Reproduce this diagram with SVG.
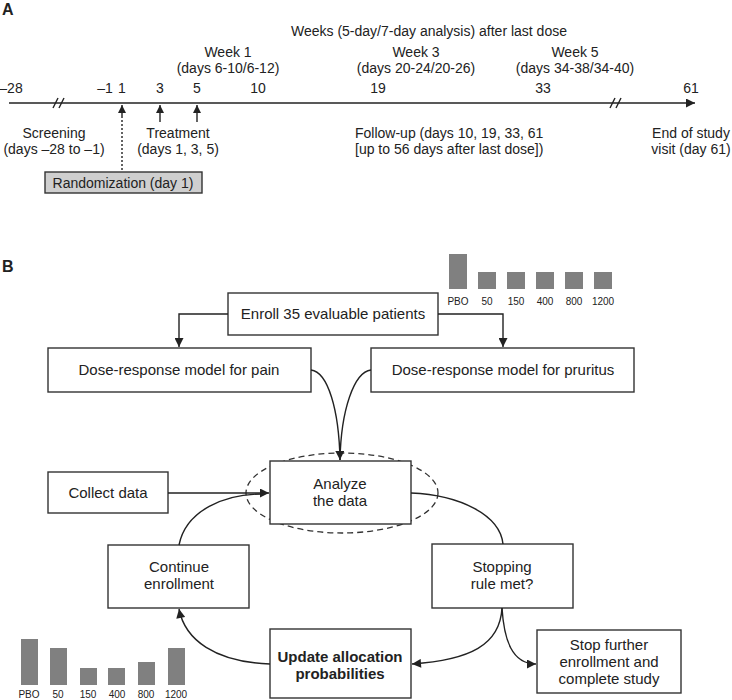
<svg xmlns="http://www.w3.org/2000/svg" width="732" height="700" viewBox="0 0 732 700">
<style>
text{font-family:"Liberation Sans",Arial,sans-serif;fill:#222}
.t{font-size:14px}
.b{font-size:15px}
.m{text-anchor:middle}
.bold{font-weight:bold}
.lab{font-size:16px;font-weight:bold}
.sm{font-size:10px;text-anchor:middle}
.box{fill:#fff;stroke:#333;stroke-width:1.4}
.ln{fill:none;stroke:#222;stroke-width:1.4}
.bar{fill:#808080}
</style>
<defs>
<marker id="ah" viewBox="0 0 10 10" refX="10" refY="5" markerWidth="8" markerHeight="8" markerUnits="userSpaceOnUse" orient="auto"><path d="M0,0 L10,5 L0,10 z" fill="#222"/></marker>
<marker id="ahL" viewBox="0 0 10 10" refX="10" refY="5" markerWidth="11" markerHeight="9" markerUnits="userSpaceOnUse" orient="auto"><path d="M0,0 L10,5 L0,10 z" fill="#222"/></marker>
</defs>

<!-- Panel A -->
<text x="2" y="15" class="lab">A</text>
<g id="timeline">
<line x1="9" y1="103" x2="695" y2="103" class="ln" marker-end="url(#ahL)"/>
<line x1="53" y1="108" x2="58" y2="98" class="ln"/>
<line x1="59" y1="108" x2="64" y2="98" class="ln"/>
<line x1="610" y1="108" x2="615" y2="98" class="ln"/>
<line x1="616" y1="108" x2="621" y2="98" class="ln"/>
<text x="11" y="93" class="t m">–28</text>
<text x="105" y="93" class="t m">–1</text>
<text x="122" y="93" class="t m">1</text>
<text x="160" y="93" class="t m">3</text>
<text x="197" y="93" class="t m">5</text>
<text x="258" y="93" class="t m">10</text>
<text x="378" y="93" class="t m">19</text>
<text x="543" y="93" class="t m">33</text>
<text x="691" y="93" class="t m">61</text>
<text x="429" y="36" class="t m">Weeks (5-day/7-day analysis) after last dose</text>
<text x="228" y="57" class="t m">Week 1</text>
<text x="228" y="73" class="t m">(days 6-10/6-12)</text>
<text x="416" y="57" class="t m">Week 3</text>
<text x="416" y="73" class="t m">(days 20-24/20-26)</text>
<text x="575" y="57" class="t m">Week 5</text>
<text x="575" y="73" class="t m">(days 34-38/34-40)</text>
</g>
<g id="arrows-a">
<line x1="122" y1="116" x2="122" y2="105" class="ln" marker-end="url(#ah)"/>
<line x1="122" y1="116" x2="122" y2="172" class="ln" stroke-dasharray="2,2"/>
<line x1="160" y1="122" x2="160" y2="105" class="ln" marker-end="url(#ah)"/>
<line x1="197" y1="122" x2="197" y2="105" class="ln" marker-end="url(#ah)"/>
</g>
<g id="screening">
<text x="54" y="138" class="t m">Screening</text>
<text x="54" y="154" class="t m">(days –28 to –1)</text>
</g>
<g id="treatment">
<text x="178" y="138" class="t m">Treatment</text>
<text x="178" y="154" class="t m">(days 1, 3, 5)</text>
</g>
<g id="followup">
<text x="355" y="138" class="t">Follow-up (days 10, 19, 33, 61</text>
<text x="355" y="154" class="t">[up to 56 days after last dose])</text>
</g>
<g id="endofstudy">
<text x="691" y="138" class="t m">End of study</text>
<text x="691" y="154" class="t m">visit (day 61)</text>
</g>
<g id="randomization">
<rect x="45" y="172" width="157" height="21" fill="#cfcfcf" stroke="#333" stroke-width="1.4"/>
<text x="123" y="188" class="t m">Randomization (day 1)</text>
</g>

<!-- Panel B -->
<text x="2" y="272" class="lab">B</text>

<g id="bars-top">
<rect x="449" y="254" width="18" height="35" class="bar"/>
<rect x="478" y="272" width="18" height="17" class="bar"/>
<rect x="507" y="272" width="18" height="17" class="bar"/>
<rect x="536" y="272" width="18" height="17" class="bar"/>
<rect x="565" y="272" width="18" height="17" class="bar"/>
<rect x="594" y="272" width="18" height="17" class="bar"/>
<text x="458" y="305" class="sm">PBO</text>
<text x="487" y="305" class="sm">50</text>
<text x="516" y="305" class="sm">150</text>
<text x="545" y="305" class="sm">400</text>
<text x="574" y="305" class="sm">800</text>
<text x="603" y="305" class="sm">1200</text>
</g>

<g id="bars-bottom">
<rect x="21" y="639" width="17" height="46" class="bar"/>
<rect x="50" y="648" width="17" height="37" class="bar"/>
<rect x="80" y="668" width="17" height="17" class="bar"/>
<rect x="108" y="668" width="17" height="17" class="bar"/>
<rect x="138" y="662" width="17" height="23" class="bar"/>
<rect x="168" y="648" width="17" height="37" class="bar"/>
<text x="29" y="698" class="sm">PBO</text>
<text x="58" y="698" class="sm">50</text>
<text x="88" y="698" class="sm">150</text>
<text x="117" y="698" class="sm">400</text>
<text x="146" y="698" class="sm">800</text>
<text x="176" y="698" class="sm">1200</text>
</g>

<g id="enroll">
<rect x="228" y="293" width="210" height="42" class="box"/>
<text x="333" y="319" class="b m">Enroll 35 evaluable patients</text>
</g>
<g id="pain">
<rect x="48" y="348" width="263" height="44" class="box"/>
<text x="179" y="375" class="b m">Dose-response model for pain</text>
</g>
<g id="pruritus">
<rect x="371" y="348" width="263" height="44" class="box"/>
<text x="503" y="375" class="b m">Dose-response model for pruritus</text>
</g>
<g id="analyze">
<ellipse cx="342" cy="493" rx="96" ry="40" fill="none" stroke="#333" stroke-width="1.3" stroke-dasharray="6,4"/>
<rect x="270" y="461" width="141" height="63" class="box"/>
<text x="340" y="489" class="b m">Analyze</text>
<text x="340" y="506" class="b m">the data</text>
</g>
<g id="collect">
<rect x="48" y="472" width="120" height="41" class="box"/>
<text x="108" y="498" class="b m">Collect data</text>
</g>
<g id="continue">
<rect x="108" y="545" width="141" height="63" class="box"/>
<text x="179" y="572" class="b m">Continue</text>
<text x="179" y="589" class="b m">enrollment</text>
</g>
<g id="stopping">
<rect x="432" y="544" width="141" height="64" class="box"/>
<text x="502" y="572" class="b m">Stopping</text>
<text x="502" y="589" class="b m">rule met?</text>
</g>
<g id="update">
<rect x="270" y="629" width="141" height="69" class="box"/>
<text x="340" y="662" class="b m bold">Update allocation</text>
<text x="340" y="679" class="b m bold">probabilities</text>
</g>
<g id="stopfurther">
<rect x="537" y="630" width="144" height="63" class="box"/>
<text x="609" y="650" class="b m">Stop further</text>
<text x="609" y="667" class="b m">enrollment and</text>
<text x="609" y="684" class="b m">complete study</text>
</g>

<g id="connectors">
<path d="M228,314 H179 V347" class="ln" marker-end="url(#ahL)"/>
<path d="M438,314 H503 V347" class="ln" marker-end="url(#ahL)"/>
<path d="M311,370 C328,372 339,410 340,460" class="ln" marker-end="url(#ahL)"/>
<path d="M371,370 C354,372 341,410 340,460" class="ln"/>
<path d="M168,493 H269" class="ln" marker-end="url(#ahL)"/>
<path d="M179,545 C186,510 225,494 262,494" class="ln"/>
<path d="M270,664 C215,662 185,640 179,609" class="ln" marker-end="url(#ahL)"/>
<path d="M411,493 C460,495 500,515 503,544" class="ln"/>
<path d="M502,608 C500,645 470,660 412,664" class="ln" marker-end="url(#ahL)"/>
<path d="M502,608 C504,640 512,664 536,664" class="ln" marker-end="url(#ahL)"/>
</g>
</svg>
